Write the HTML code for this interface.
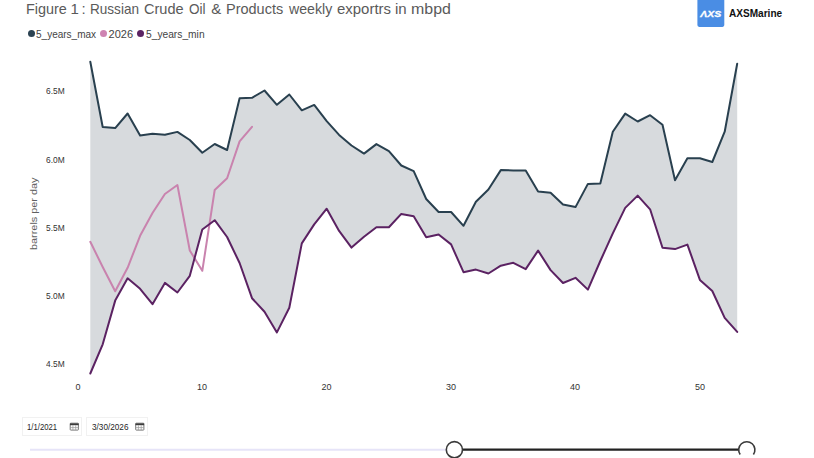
<!DOCTYPE html>
<html><head><meta charset="utf-8">
<style>
html,body{margin:0;padding:0;background:#fff;width:814px;height:458px;overflow:hidden;position:relative;font-family:"Liberation Sans",sans-serif;}
.abs{position:absolute;white-space:nowrap;transform-origin:0 0;}
.tw{top:-0.1px;font-size:15px;color:#5a5a5a;}
.leg{top:27.6px;font-size:11px;color:#444;line-height:12px;transform:scaleX(0.91);}
.dot{position:absolute;width:7px;height:7px;border-radius:50%;top:29.5px;}
.ylab{font-size:9px;color:#333;line-height:10px;transform:scaleX(0.93);}
.xlab{font-size:9px;color:#333;top:381.5px;line-height:10px;}
.date{position:absolute;top:417px;height:16.6px;border:1px solid #f1f1f1;}
.dtxt{position:absolute;font-size:9px;color:#262626;line-height:10px;top:421.5px;transform:scaleX(0.86);}
</style></head><body>
<div class="abs tw" style="left:26.24px;transform:scaleX(0.961)">Figure</div>
<div class="abs tw" style="left:70.6px;transform:scaleX(1)">1</div>
<div class="abs tw" style="left:81.6px;transform:scaleX(1)">:</div>
<div class="abs tw" style="left:89.7px;transform:scaleX(0.9038)">Russian</div>
<div class="abs tw" style="left:143.7px;transform:scaleX(0.9707)">Crude</div>
<div class="abs tw" style="left:188.7px;transform:scaleX(0.9)">Oil</div>
<div class="abs tw" style="left:211.3px;transform:scaleX(1)">&amp;</div>
<div class="abs tw" style="left:226.43px;transform:scaleX(0.9655)">Products</div>
<div class="abs tw" style="left:288.6px;transform:scaleX(0.9435)">weekly</div>
<div class="abs tw" style="left:336.9px;transform:scaleX(0.9963)">exportrs</div>
<div class="abs tw" style="left:395.0px;transform:scaleX(1)">in</div>
<div class="abs tw" style="left:411.14px;transform:scaleX(1.0639)">mbpd</div>

<div class="dot" style="left:27.5px;background:#2c4352"></div>
<div class="abs leg" style="left:36.4px">5_years_max</div>
<div class="dot" style="left:100.3px;background:#cf84b2"></div>
<div class="abs leg" style="left:108.6px;transform:scaleX(1.0)">2026</div>
<div class="dot" style="left:137px;background:#5b2363"></div>
<div class="abs leg" style="left:146px;transform:scaleX(0.93)">5_years_min</div>

<svg class="abs" style="left:0;top:0" width="814" height="40" viewBox="0 0 814 40"><rect x="697.4" y="-2" width="26.9" height="28.9" rx="1.8" fill="#4a8de4"/><text x="700.3" y="16.9" font-family="Liberation Sans" font-weight="bold" font-style="italic" font-size="9.8" fill="#fff" stroke="#fff" stroke-width="0.3" textLength="21"  lengthAdjust="spacingAndGlyphs">&#923;XS</text></svg>

<div class="abs" style="left:729px;top:7px;font-size:11px;font-weight:bold;color:#111;line-height:12px;transform:scaleX(0.915)">AXSMarine</div>

<div class="abs ylab" style="left:45.6px;top:86px">6.5M</div>
<div class="abs ylab" style="left:45.6px;top:155px">6.0M</div>
<div class="abs ylab" style="left:45.6px;top:223px">5.5M</div>
<div class="abs ylab" style="left:45.6px;top:291px">5.0M</div>
<div class="abs ylab" style="left:45.6px;top:359px">4.5M</div>

<div class="abs" style="left:28.5px;top:250.1px;font-size:9.5px;color:#606060;line-height:10px;transform:rotate(-90deg) scaleX(1.145);">barrels per day</div>

<div class="abs xlab" style="left:75.5px">0</div>
<div class="abs xlab" style="left:197px">10</div>
<div class="abs xlab" style="left:321.5px">20</div>
<div class="abs xlab" style="left:446px">30</div>
<div class="abs xlab" style="left:570px">40</div>
<div class="abs xlab" style="left:695px">50</div>

<svg class="abs" style="left:0;top:0" width="814" height="458" viewBox="0 0 814 458">
<polygon points="90.3,61.8 102.7,127.0 115.2,128.1 127.6,113.5 140.1,135.6 152.5,133.8 164.9,134.8 177.4,131.9 189.8,140.0 202.3,152.7 214.7,144.0 227.1,150.0 239.6,98.3 252.0,97.8 264.5,90.5 276.9,104.8 289.3,94.5 301.8,110.3 314.2,104.9 326.7,121.1 339.1,134.9 351.5,145.5 364.0,153.6 376.4,144.1 388.9,151.2 401.3,165.5 413.7,171.2 426.2,199.0 438.6,212.0 451.1,212.0 463.5,225.8 475.9,201.7 488.4,189.5 500.8,170.1 513.3,170.4 525.7,170.6 538.1,191.5 550.6,192.7 563.0,204.5 575.5,207.1 587.9,183.9 600.3,183.6 612.8,131.8 625.2,113.6 637.7,121.5 650.1,115.2 662.5,124.8 675.0,180.3 687.4,158.3 699.9,158.3 712.3,162.0 724.7,131.7 737.2,63.8 737.2,331.9 724.7,317.9 712.3,291.0 699.9,279.9 687.4,244.6 675.0,249.1 662.5,247.7 650.1,209.3 637.7,195.6 625.2,207.9 612.8,233.4 600.3,261.0 587.9,289.6 575.5,277.8 563.0,283.0 550.6,270.1 538.1,250.6 525.7,269.1 513.3,262.8 500.8,265.7 488.4,273.5 475.9,269.6 463.5,272.2 451.1,244.4 438.6,234.5 426.2,237.3 413.7,216.2 401.3,213.9 388.9,227.3 376.4,227.3 364.0,236.8 351.5,247.6 339.1,230.9 326.7,208.7 314.2,224.4 301.8,243.4 289.3,307.8 276.9,332.4 264.5,311.8 252.0,298.2 239.6,263.0 227.1,237.0 214.7,220.2 202.3,229.5 189.8,275.8 177.4,292.5 164.9,282.9 152.5,304.2 140.1,288.8 127.6,278.3 115.2,300.6 102.7,344.3 90.3,373.5" fill="#d7dadd"/>
<polyline points="90.3,61.8 102.7,127.0 115.2,128.1 127.6,113.5 140.1,135.6 152.5,133.8 164.9,134.8 177.4,131.9 189.8,140.0 202.3,152.7 214.7,144.0 227.1,150.0 239.6,98.3 252.0,97.8 264.5,90.5 276.9,104.8 289.3,94.5 301.8,110.3 314.2,104.9 326.7,121.1 339.1,134.9 351.5,145.5 364.0,153.6 376.4,144.1 388.9,151.2 401.3,165.5 413.7,171.2 426.2,199.0 438.6,212.0 451.1,212.0 463.5,225.8 475.9,201.7 488.4,189.5 500.8,170.1 513.3,170.4 525.7,170.6 538.1,191.5 550.6,192.7 563.0,204.5 575.5,207.1 587.9,183.9 600.3,183.6 612.8,131.8 625.2,113.6 637.7,121.5 650.1,115.2 662.5,124.8 675.0,180.3 687.4,158.3 699.9,158.3 712.3,162.0 724.7,131.7 737.2,63.8" fill="none" stroke="#29404f" stroke-width="2" stroke-linejoin="round" stroke-linecap="round"/>
<polyline points="90.3,241.8 102.7,267.0 115.2,291.3 127.6,267.8 140.1,235.8 152.5,213.0 164.9,194.0 177.4,185.0 189.8,250.5 202.3,270.8 214.7,190.0 227.1,178.2 239.6,141.4 252.0,126.8" fill="none" stroke="#c983ae" stroke-width="2" stroke-linejoin="round" stroke-linecap="round"/>
<polyline points="90.3,373.5 102.7,344.3 115.2,300.6 127.6,278.3 140.1,288.8 152.5,304.2 164.9,282.9 177.4,292.5 189.8,275.8 202.3,229.5 214.7,220.2 227.1,237.0 239.6,263.0 252.0,298.2 264.5,311.8 276.9,332.4 289.3,307.8 301.8,243.4 314.2,224.4 326.7,208.7 339.1,230.9 351.5,247.6 364.0,236.8 376.4,227.3 388.9,227.3 401.3,213.9 413.7,216.2 426.2,237.3 438.6,234.5 451.1,244.4 463.5,272.2 475.9,269.6 488.4,273.5 500.8,265.7 513.3,262.8 525.7,269.1 538.1,250.6 550.6,270.1 563.0,283.0 575.5,277.8 587.9,289.6 600.3,261.0 612.8,233.4 625.2,207.9 637.7,195.6 650.1,209.3 662.5,247.7 675.0,249.1 687.4,244.6 699.9,279.9 712.3,291.0 724.7,317.9 737.2,331.9" fill="none" stroke="#5b2262" stroke-width="2" stroke-linejoin="round" stroke-linecap="round"/>
<line x1="30" y1="449.7" x2="454" y2="449.7" stroke="#e6e4f8" stroke-width="2"/>
<line x1="454" y1="449.7" x2="747" y2="449.7" stroke="#222" stroke-width="2.2"/>
<circle cx="454.4" cy="449.7" r="8.1" fill="#fff" stroke="#3a3a3a" stroke-width="1.6"/>
<path d="M740.2 454.5 A8.1 8.1 0 1 1 753.4 454.5" fill="#fff" stroke="#3a3a3a" stroke-width="1.6"/>
<g>
<rect x="70.2" y="423.2" width="8.2" height="6.9" fill="none" stroke="#6a6a6a" stroke-width="0.9" rx="0.6"/>
<rect x="70" y="423.4" width="8.6" height="1.8" fill="#3c3c3c"/>
<g stroke="#9a9a9a" stroke-width="0.7"><line x1="72.9" y1="425.2" x2="72.9" y2="430"/><line x1="75.7" y1="425.2" x2="75.7" y2="430"/><line x1="70.2" y1="427.6" x2="78.4" y2="427.6"/></g>
<rect x="135.7" y="423.2" width="8.2" height="6.9" fill="none" stroke="#6a6a6a" stroke-width="0.9" rx="0.6"/>
<rect x="135.5" y="423.4" width="8.6" height="1.8" fill="#3c3c3c"/>
<g stroke="#9a9a9a" stroke-width="0.7"><line x1="138.4" y1="425.2" x2="138.4" y2="430"/><line x1="141.2" y1="425.2" x2="141.2" y2="430"/><line x1="135.7" y1="427.6" x2="143.9" y2="427.6"/></g>
</g>
</svg>

<div class="date" style="left:21.5px;width:58.5px;"></div>
<div class="date" style="left:86px;width:59.5px;"></div>
<div class="abs dtxt" style="left:27px">1/1/2021</div>
<div class="abs dtxt" style="left:91.6px;transform:scaleX(0.91)">3/30/2026</div>
</body></html>
